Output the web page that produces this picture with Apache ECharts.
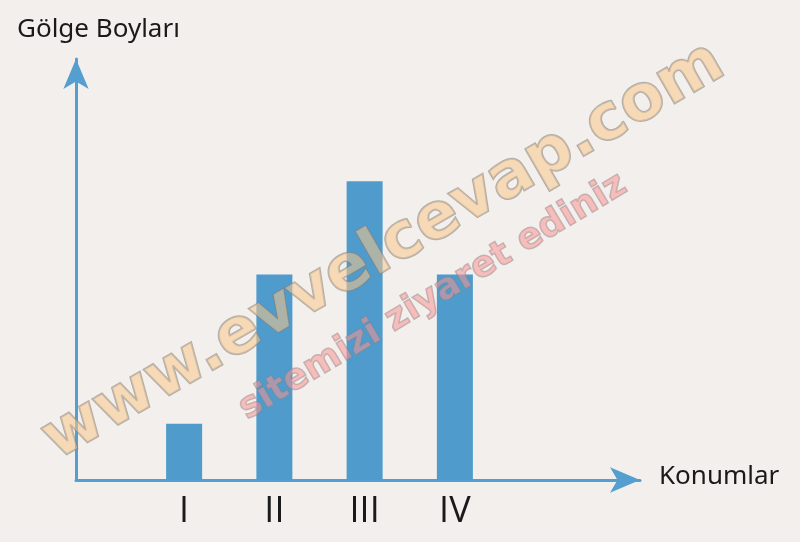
<!DOCTYPE html>
<html>
<head>
<meta charset="utf-8">
<script src="https://cdn.jsdelivr.net/npm/echarts@6/dist/echarts.min.js"></script>
<style>
html,body{margin:0;padding:0;background:#f2efed;}
#chart{width:800px;height:542px;}
</style>
</head>
<body>
<div id="chart"></div>
<script>
// Data
const categories = ['I', 'II', 'III', 'IV'];
const shadowLengths = [56, 205, 298, 205];
const yAxisTitle = 'Gölge Boyları';
const xAxisTitle = 'Konumlar';
const watermarkMain = 'www.evvelcevap.com';
const watermarkSub = 'sitemizi ziyaret ediniz';

const blue = '#4f9bcc';
const axisBlue = '#559fd0';
const yMax = 405;

const chart = echarts.init(document.getElementById('chart'), null, {renderer: 'canvas'});
chart.setOption({
  backgroundColor: '#f2efed',
  animation: false,
  grid: [
    {left: 76, right: 160, top: 59, bottom: 62},
    {left: 139, right: 300, top: 74, bottom: 62}
  ],
  xAxis: [
    {
      gridIndex: 0, type: 'value', min: 0, max: 1,
      axisLine: {show: true, symbol: ['none', 'arrow'], symbolSize: [19, 30], lineStyle: {color: axisBlue, width: 3}},
      axisTick: {show: false}, axisLabel: {show: false}, splitLine: {show: false}
    },
    {
      gridIndex: 1, type: 'category', data: categories,
      axisLine: {show: false}, axisTick: {show: false}, splitLine: {show: false},
      axisLabel: {color: '#1a1a1a', fontFamily: 'Open Sans', fontSize: 36, margin: 14}
    }
  ],
  yAxis: [
    {
      gridIndex: 0, type: 'value', min: 0, max: 1,
      axisLine: {show: true, symbol: ['none', 'arrow'], symbolSize: [19, 30], lineStyle: {color: axisBlue, width: 3}},
      axisTick: {show: false}, axisLabel: {show: false}, splitLine: {show: false}
    },
    {
      gridIndex: 1, type: 'value', min: 0, max: yMax, show: false
    }
  ],
  series: [
    {
      type: 'bar', xAxisIndex: 1, yAxisIndex: 1, data: shadowLengths,
      barWidth: 36, itemStyle: {color: blue}, z: 1
    }
  ],
  graphic: [
    {type: 'text', left: 17, top: 17, style: {text: yAxisTitle, font: '26px "Noto Sans", sans-serif', fill: '#1a1a1a'}},
    {type: 'text', left: 659, top: 464, style: {text: xAxisTitle, font: '26px "Noto Sans", sans-serif', fill: '#1a1a1a'}},
    {type: 'text', x: 384, y: 252, rotation: 30 * Math.PI / 180, z: 100,
      style: {text: watermarkMain, font: 'bold 64px "DejaVu Sans"', fill: 'rgba(250,200,140,0.55)', stroke: 'rgba(130,130,130,0.6)', lineWidth: 2, align: 'center', verticalAlign: 'middle'}},
    {type: 'text', x: 433, y: 297, rotation: 31 * Math.PI / 180, z: 100,
      style: {text: watermarkSub, font: 'bold 36px "DejaVu Sans"', fill: 'rgba(245,150,150,0.55)', stroke: 'rgba(130,130,130,0.5)', lineWidth: 1.5, align: 'center', verticalAlign: 'middle'}}
  ]
});
</script>
</body>
</html>
